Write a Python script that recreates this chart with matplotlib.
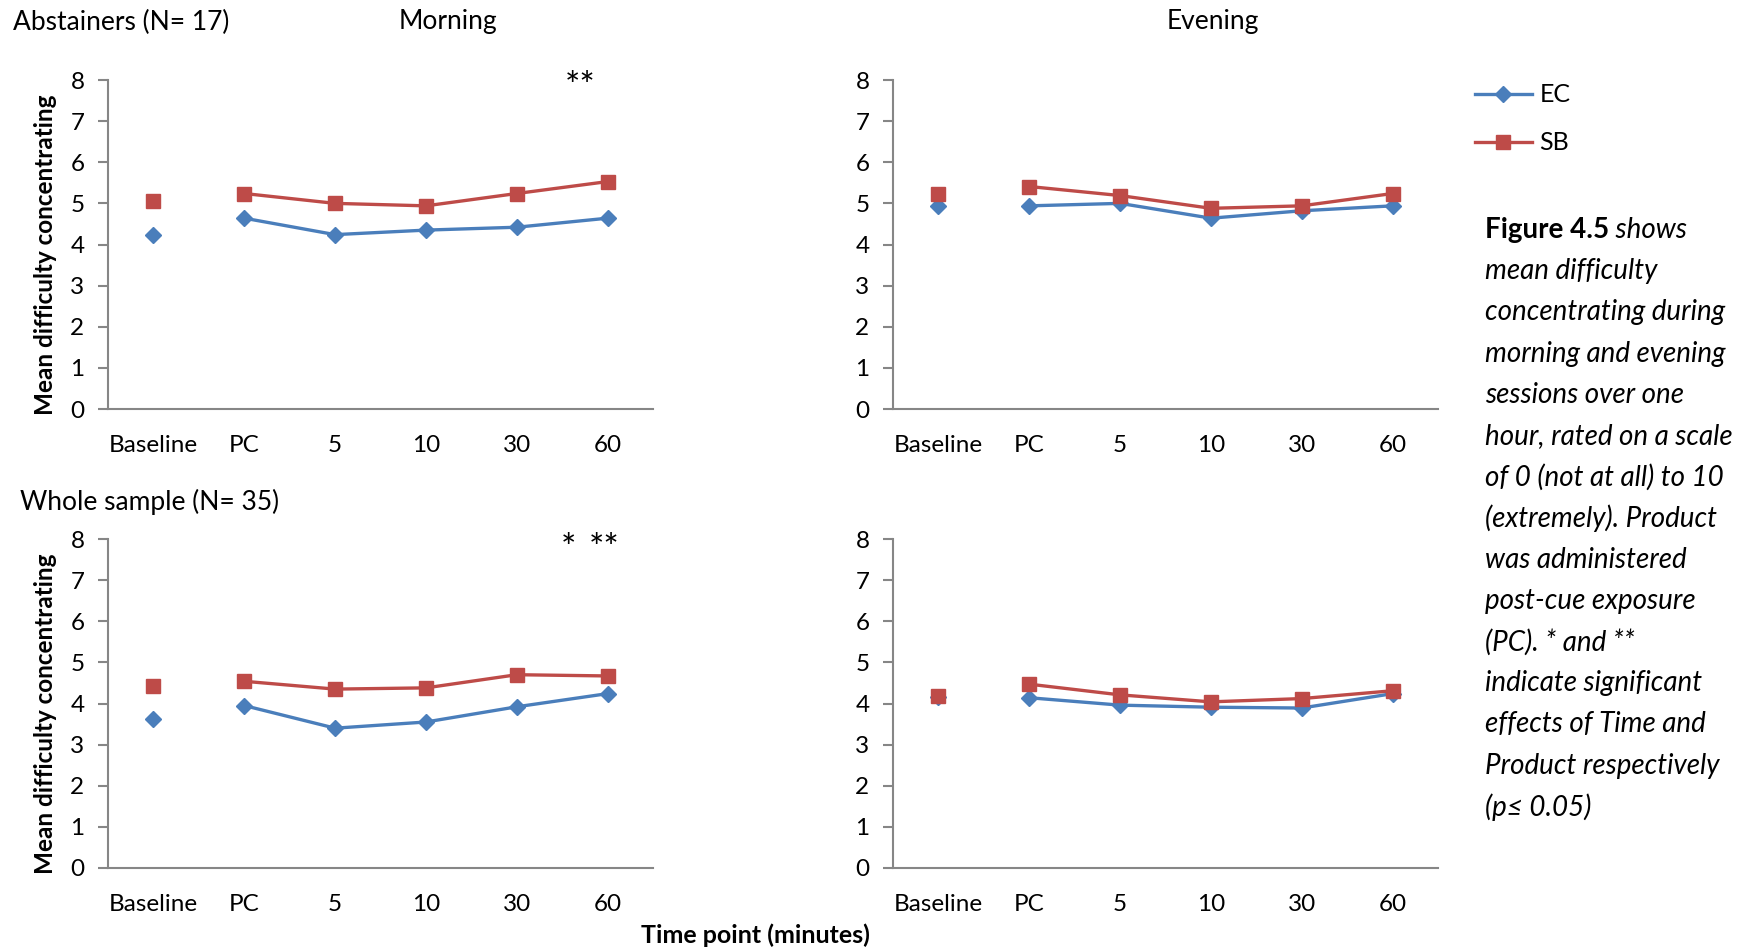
import matplotlib
matplotlib.use("Agg")
import matplotlib.pyplot as plt

categories = ["Baseline", "PC", "5", "10", "30", "60"]
y_ticks = [0, 1, 2, 3, 4, 5, 6, 7, 8]

# Abstainers, morning / evening
abst_morning_ec = [4.24, 4.64, 4.24, 4.35, 4.42, 4.64]
abst_morning_sb = [5.06, 5.24, 5.00, 4.94, 5.24, 5.53]
abst_evening_ec = [4.94, 4.94, 5.00, 4.64, 4.82, 4.94]
abst_evening_sb = [5.24, 5.41, 5.19, 4.88, 4.94, 5.24]
# Whole sample, morning / evening
whole_morning_ec = [3.62, 3.95, 3.40, 3.55, 3.92, 4.24]
whole_morning_sb = [4.42, 4.54, 4.35, 4.38, 4.70, 4.67]
whole_evening_ec = [4.17, 4.14, 3.96, 3.91, 3.89, 4.24]
whole_evening_sb = [4.18, 4.47, 4.21, 4.04, 4.12, 4.31]

series_names = ["EC", "SB"]

caption_lines = [
    "mean difficulty",
    "concentrating during",
    "morning and evening",
    "sessions over one",
    "hour, rated on a scale",
    "of 0 (not at all) to 10",
    "(extremely). Product",
    "was administered",
    "post-cue exposure",
    "(PC). * and **",
    "indicate significant",
    "effects of Time and",
    "Product respectively",
    "(p\u2264 0.05)",
]

FONT = ["Lato", "DejaVu Sans"]
plt.rcParams["font.family"] = FONT

EC_COLOR = "#4A7EBB"
SB_COLOR = "#BE4B48"
AX_COLOR = "#868686"

W, H = 1751, 949
fig = plt.figure(figsize=(W / 100, H / 100), dpi=100)


def add_axes(x0, x1, ytop, ybot):
    return fig.add_axes([x0 / W, 1 - ybot / H, (x1 - x0) / W, (ybot - ytop) / H])


panels = [
    (add_axes(108, 653, 80, 409), abst_morning_ec, abst_morning_sb),
    (add_axes(893, 1438, 80, 409), abst_evening_ec, abst_evening_sb),
    (add_axes(108, 653, 539, 868), whole_morning_ec, whole_morning_sb),
    (add_axes(893, 1438, 539, 868), whole_evening_ec, whole_evening_sb),
]

x = list(range(len(categories)))
handles = None
for i, (ax, ec, sb) in enumerate(panels):
    # baseline as isolated points, then connected PC..60
    ax.plot(x[0], ec[0], marker="D", color=EC_COLOR, markersize=8, linestyle="none", zorder=3)
    ax.plot(x[0], sb[0], marker="s", color=SB_COLOR, markersize=10.5, linestyle="none", zorder=4)
    h1, = ax.plot(x[1:], ec[1:], marker="D", color=EC_COLOR, markersize=8, linewidth=2.4, zorder=3)
    h2, = ax.plot(x[1:], sb[1:], marker="s", color=SB_COLOR, markersize=10.5, linewidth=2.4, zorder=4)
    handles = (h1, h2)
    ax.set_xlim(-0.5, 5.5)
    ax.set_ylim(0, 8)
    ax.set_yticks(y_ticks)
    ax.set_xticks(x)
    ax.set_xticklabels(categories)
    for s in ["top", "right"]:
        ax.spines[s].set_visible(False)
    for s in ["left", "bottom"]:
        ax.spines[s].set_color(AX_COLOR)
        ax.spines[s].set_linewidth(1.5)
    ax.tick_params(axis="y", colors=AX_COLOR, length=7, width=1.5, labelsize=17.5,
                   labelcolor="black", pad=10)
    ax.tick_params(axis="x", length=0, labelsize=17.5, labelcolor="black", pad=19)
    ax.set_facecolor("none")
    if i in (0, 2):
        ax.set_ylabel("Mean difficulty concentrating", fontsize=17.5, fontweight="bold")
        ax.yaxis.set_label_coords(-0.094, 0.47)

# titles and annotations
fig.text(13 / W, 1 - 22 / H, "Abstainers (N= 17)", fontsize=19, ha="left", va="center")
fig.text(448 / W, 1 - 22 / H, "Morning", fontsize=19, ha="center", va="center")
fig.text(1213 / W, 1 - 22 / H, "Evening", fontsize=19, ha="center", va="center")
fig.text(20 / W, 1 - 502 / H, "Whole sample (N= 35)", fontsize=19, ha="left", va="center")
fig.text(755 / W, 1 - 935 / H, "Time point (minutes)", fontsize=18, fontweight="bold",
         ha="center", va="center")

fig.text(580 / W, 1 - 88 / H, "**", fontsize=26, ha="center", va="center")
fig.text(568 / W, 1 - 549 / H, "*", fontsize=26, ha="center", va="center")
fig.text(604 / W, 1 - 549 / H, "**", fontsize=26, ha="center", va="center")

# legend
fig.legend(handles, series_names, loc="upper left", bbox_to_anchor=(1452 / W, 1 - 61 / H),
           frameon=False, fontsize=18, handlelength=2.3, labelspacing=1.0, handletextpad=0.3)

# caption
cx = 1485 / W
y0 = 230
dy = 41.2
t1 = fig.text(cx, 1 - y0 / H, "Figure 4.5", fontsize=20, fontweight="bold", ha="left", va="center")
fig.canvas.draw()
bb = t1.get_window_extent()
fig.text(bb.x1 / W, 1 - y0 / H, " shows", fontsize=20, fontstyle="italic", ha="left", va="center")
for k, line in enumerate(caption_lines):
    fig.text(cx, 1 - (y0 + dy * (k + 1)) / H, line, fontsize=20, fontstyle="italic",
             ha="left", va="center")

fig.savefig("out.png", dpi=100, facecolor="white")
